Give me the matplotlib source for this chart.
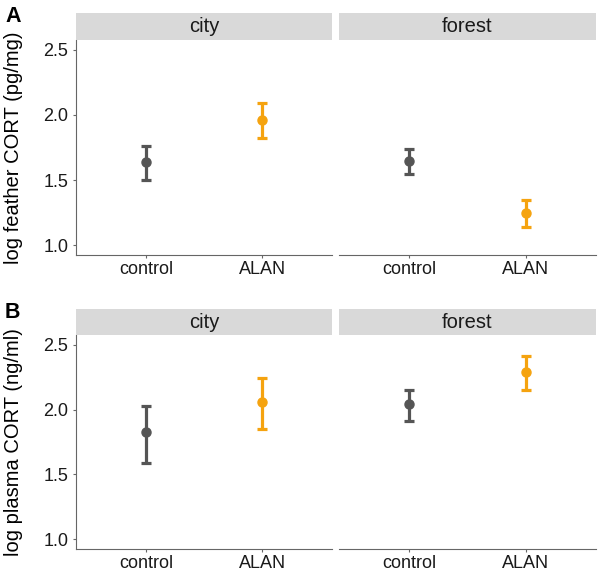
import matplotlib.pyplot as plt

plt.rcParams['font.family'] = ['Liberation Sans', 'DejaVu Sans']

# data
habitats = ["city", "forest"]
treatments = ["control", "ALAN"]

feather_mean = [[1.64, 1.96], [1.65, 1.25]]
feather_lo = [[1.50, 1.82], [1.55, 1.14]]
feather_hi = [[1.76, 2.09], [1.74, 1.35]]

plasma_mean = [[1.83, 2.06], [2.04, 2.29]]
plasma_lo = [[1.59, 1.85], [1.91, 2.15]]
plasma_hi = [[2.03, 2.24], [2.15, 2.41]]

yticks = [1.0, 1.5, 2.0, 2.5]
colors = ["#555555", "#F5A30F"]

W, H = 600, 573
fig = plt.figure(figsize=(W / 100, H / 100), dpi=100)


def box(x0, y0, x1, y1):
    # pixel box (from top-left) to figure fraction
    return [x0 / W, 1 - y1 / H, (x1 - x0) / W, (y1 - y0) / H]


def draw_row(means, los, his, top, bottom, strip_top, ylabel, letter):
    cols = [(76, 332), (339, 596)]
    for j, (x0, x1) in enumerate(cols):
        ax = fig.add_axes(box(x0, top, x1, bottom))
        for k in range(2):
            m = means[j][k]
            ax.errorbar(k, m, yerr=[[m - los[j][k]], [his[j][k] - m]],
                        fmt='o', color=colors[k], ms=6.5, elinewidth=2.3,
                        capsize=3.7, capthick=2.3)
        ax.set_xlim(-0.6, 1.6)
        ax.set_ylim(0.925, 2.575)
        ax.set_xticks(range(2))
        ax.set_xticklabels(treatments, fontsize=13, color="#1a1a1a")
        for s in ['top', 'right']:
            ax.spines[s].set_visible(False)
        ax.spines['bottom'].set_color("#666666")
        ax.spines['left'].set_color("#666666")
        ax.tick_params(axis='x', length=2.5, width=0.8, color="#666666", pad=2)
        if j == 0:
            ax.set_yticks(yticks)
            ax.set_yticklabels([f"{v:.1f}" for v in yticks], fontsize=13, color="#1a1a1a")
            ax.tick_params(axis='y', length=2.5, width=0.8, color="#666666", pad=3)
            ax.set_ylabel(ylabel, fontsize=14.5, labelpad=15)
        else:
            ax.spines['left'].set_visible(False)
            ax.set_yticks([])
        sax = fig.add_axes(box(x0, strip_top, x1, top))
        sax.set_facecolor("#D9D9D9")
        sax.set_xticks([])
        sax.set_yticks([])
        for s in sax.spines.values():
            s.set_visible(False)
        sax.text(0.5, 0.5, habitats[j], ha='center', va='center', fontsize=14.5,
                 color="#1a1a1a", transform=sax.transAxes)
    fig.text(5 / W, 1 - (strip_top + 3.5) / H, letter, fontsize=15.5, fontweight='bold',
             ha='left', va='center')


draw_row(feather_mean, feather_lo, feather_hi, 40, 255, 13,
         "log feather CORT (pg/mg)", "A")
draw_row(plasma_mean, plasma_lo, plasma_hi, 335, 549, 309,
         "log plasma CORT (ng/ml)", "B")

fig.savefig("out.png", dpi=100)
